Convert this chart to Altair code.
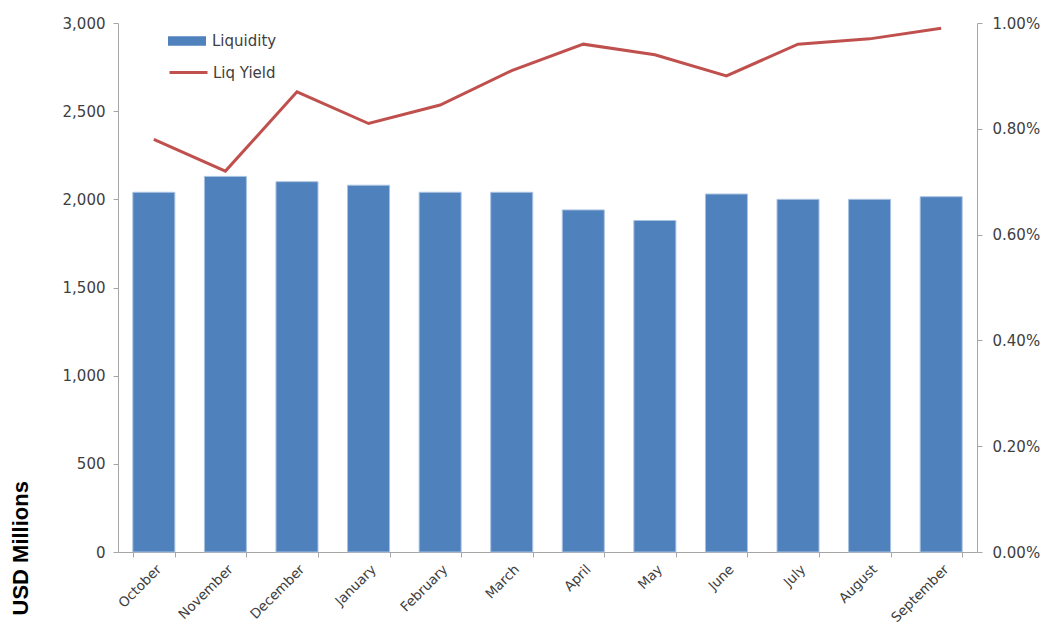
import altair as alt
import pandas as pd

months = ["October", "November", "December", "January", "February", "March",
          "April", "May", "June", "July", "August", "September"]
liquidity = [2040, 2130, 2100, 2080, 2040, 2040, 1940, 1880, 2030, 2000, 2000, 2015]
liq_yield = [0.0078, 0.0072, 0.0087, 0.0081, 0.00845, 0.0091, 0.0096, 0.0094,
             0.0090, 0.0096, 0.0097, 0.0099]
left_ticks = [0, 500, 1000, 1500, 2000, 2500, 3000]
right_ticks = [0, 0.002, 0.004, 0.006, 0.008, 0.010]

df = pd.DataFrame({
    "Month": months,
    "Liquidity": liquidity,
    "Yield": liq_yield,
    "s1": ["Liquidity"] * len(months),
    "s2": ["Liq Yield"] * len(months),
})

x = alt.X(
    "Month:N",
    sort=months,
    scale=alt.Scale(paddingInner=0.413, paddingOuter=0.207),
    axis=alt.Axis(title=None, labelAngle=-45, tickBand="extent", labelPadding=5,
                  labelFontSize=13.5),
)

bars = alt.Chart(df).mark_bar(stroke="#A9C2E0", strokeWidth=1).encode(
    x=x,
    y=alt.Y(
        "Liquidity:Q",
        scale=alt.Scale(domain=[0, 3000], nice=False),
        axis=alt.Axis(
            values=left_ticks, format=",.0f", orient="left",
            title="USD Millions", titleFontSize=22, titleFontWeight="bold",
            titleFont="Liberation Sans", titleColor="#000000",
            titleAngle=-90, titleAlign="left", titleBaseline="middle",
            titleX=-98, titleY=592, labelPadding=8,
        ),
    ),
    color=alt.Color(
        "s1:N",
        scale=alt.Scale(range=["#4F81BD"]),
        legend=alt.Legend(
            title=None, orient="none", legendX=50, legendY=-1,
            symbolType="M-1,-0.25H1V0.25H-1Z", symbolSize=1444,
            symbolStrokeWidth=0, labelOffset=6, padding=0,
        ),
    ),
)

line = alt.Chart(df).mark_line(strokeWidth=3).encode(
    x=x,
    y=alt.Y(
        "Yield:Q",
        scale=alt.Scale(domain=[0, 0.01], nice=False),
        axis=alt.Axis(values=right_ticks, format=".2%", orient="right",
                      title=None, labelPadding=10),
    ),
    stroke=alt.Stroke(
        "s2:N",
        scale=alt.Scale(range=["#C0504D"]),
        legend=alt.Legend(
            title=None, orient="none", legendX=50, legendY=29,
            symbolType="stroke", symbolSize=1444, symbolStrokeWidth=3,
            labelOffset=4, padding=0,
        ),
    ),
)

chart = alt.layer(bars, line).resolve_scale(
    y="independent", color="independent", stroke="independent"
).properties(
    width=859, height=529,
    autosize=alt.AutoSizeParams(type="none"),
    padding={"left": 110, "top": 15, "right": 63, "bottom": 75},
).configure_view(stroke=None).configure_axis(
    grid=False,
    domainColor="#A6A6A6",
    tickColor="#A6A6A6",
    tickSize=5,
    labelColor="#404040",
    labelFont="DejaVu Sans",
    labelFontSize=15,
).configure_legend(
    labelFont="DejaVu Sans", labelFontSize=15, labelColor="#404040",
)

chart.save("out.html", embed_options={"renderer": "svg", "actions": False})
